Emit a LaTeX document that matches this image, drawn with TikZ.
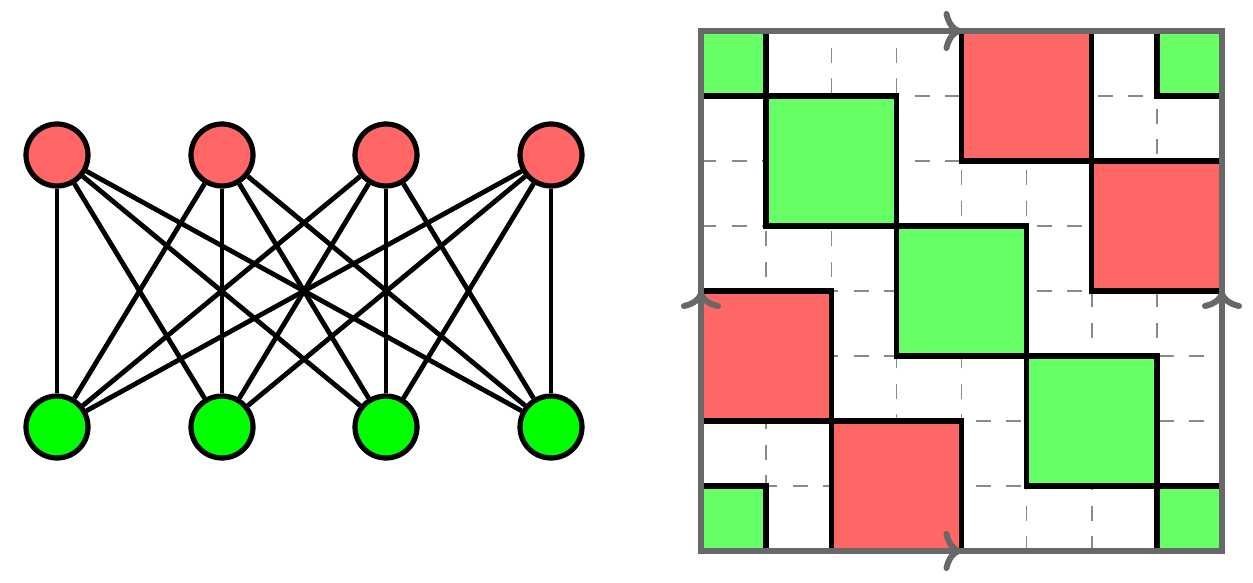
\documentclass[tikz,border=0pt]{standalone}
\usetikzlibrary{arrows.meta,decorations.markings}
\definecolor{nodered}{HTML}{FF6666}
\definecolor{nodegreen}{HTML}{00FF00}
\definecolor{tilered}{HTML}{FF6666}
\definecolor{tilegreen}{HTML}{66FF66}
\definecolor{bordergray}{HTML}{686868}
\definecolor{gridgray}{HTML}{8A8A8A}
\begin{document}
\begin{tikzpicture}[x=0.5pt,y=-0.5pt,
  vtop/.style={circle,draw=black,line width=2.6pt,fill=nodered,minimum size=31pt,inner sep=0pt},
  vbot/.style={circle,draw=black,line width=2.6pt,fill=nodegreen,minimum size=31pt,inner sep=0pt},
  edgeline/.style={draw=black,line width=2.4pt},
  gridline/.style={draw=gridgray,line width=0.75pt,dash pattern=on 7.5pt off 7.75pt},
  tile/.style={draw=black,line width=2.7pt},
  borderline/.style={draw=bordergray,line width=3pt},
  midarrow/.style={decoration={markings,mark=at position 0.5 with {\arrow[bordergray,line width=3pt]{Computer Modern Rightarrow[length=9pt,width=20pt,line cap=round]}}},decorate}
]
\useasboundingbox (0,0) rectangle (1253,583);
% bipartite graph
\node[vtop] (t1) at (57,155) {};
\node[vtop] (t2) at (222,155) {};
\node[vtop] (t3) at (386,155) {};
\node[vtop] (t4) at (551,155) {};
\node[vbot] (b1) at (57,427) {};
\node[vbot] (b2) at (222,427) {};
\node[vbot] (b3) at (386,427) {};
\node[vbot] (b4) at (551,427) {};
\foreach \t in {t1,t2,t3,t4}{
  \foreach \b in {b1,b2,b3,b4}{
    \draw[edgeline] (\t) -- (\b);
  }
}
% torus tiling
\begin{scope}[shift={(701,31)},x=32.5625pt,y=-32.5pt]
  \foreach \i in {1,...,7}{
    \draw[gridline] (0,\i) -- (8,\i);
    \draw[gridline] (\i,8) -- (\i,0);
  }
  \begin{scope}
    \clip (0,0) rectangle (8,8);
    \foreach \p in {(1,1),(3,3),(5,5),(7,7),(-1,7),(7,-1),(-1,-1)}{
      \draw[tile,fill=tilegreen] \p rectangle ++(2,2);
    }
    \foreach \p in {(4,0),(6,2),(0,4),(2,6)}{
      \draw[tile,fill=tilered] \p rectangle ++(2,2);
    }
  \end{scope}
  \draw[borderline] (0,0) rectangle (8,8);
  \draw[borderline,midarrow] (0,0) -- (8,0);
  \draw[borderline,midarrow] (0,8) -- (8,8);
  \draw[borderline,midarrow] (0,8) -- (0,0);
  \draw[borderline,midarrow] (8,8) -- (8,0);
\end{scope}
\end{tikzpicture}
\end{document}
